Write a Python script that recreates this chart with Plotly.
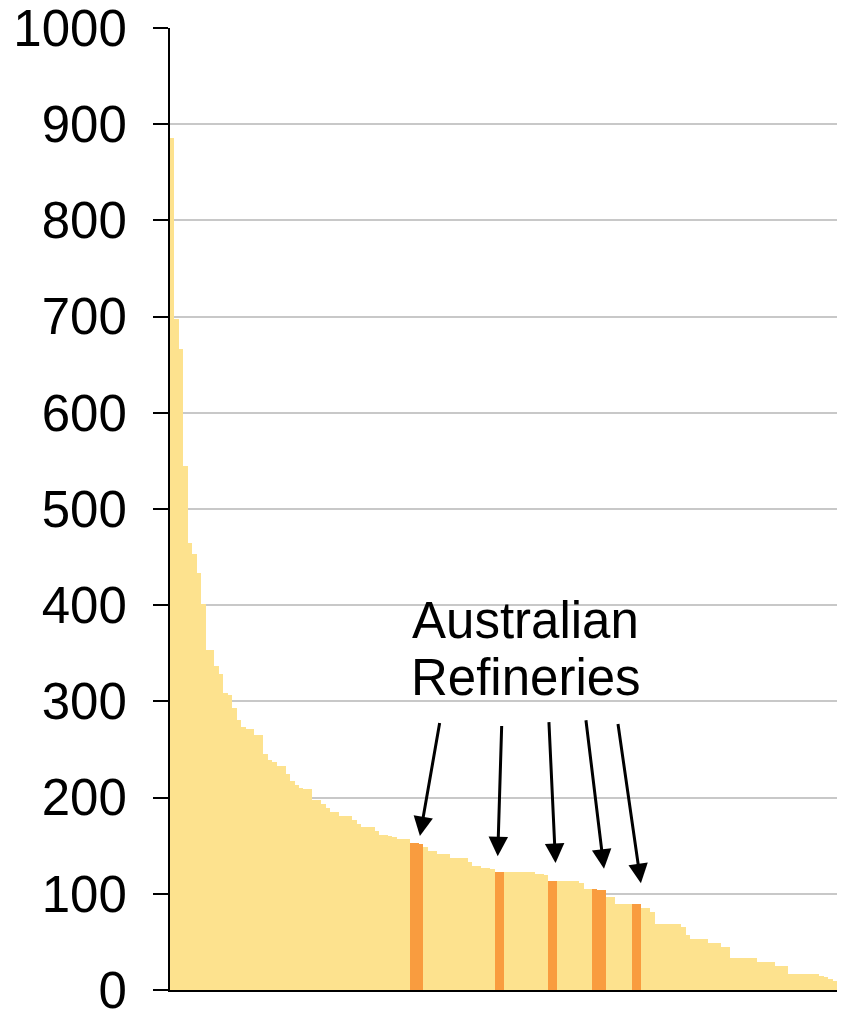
import plotly.graph_objects as go

# Refinery capacities (sorted)
capacity = [
    886, 697, 666, 545, 465, 453, 433, 401,
    353, 353, 337, 328, 309, 307, 293, 281, 273, 271, 271, 265, 265,
    245, 239, 237, 233, 233, 225, 217, 213, 210, 209, 209,
    197, 197, 193, 189, 185, 185, 181, 181, 181, 177, 173,
    169, 169, 169, 165, 161, 161, 160, 159, 157, 157, 157,
    153, 153, 152,
    149, 145, 145, 141, 141, 141, 137, 137, 137, 137, 133, 129, 129, 127, 127, 126,
    123, 123,
    123, 123, 123, 123, 123, 123, 123,
    121, 121, 120,
    113, 113,
    113, 113, 113, 113, 113, 111, 105, 105,
    105, 104, 104,
    97, 97, 89, 89, 89, 89,
    89, 89,
    85, 85, 81,
    69, 69, 69, 69, 69, 69, 65, 57,
    53, 53, 53, 53, 49, 49, 49, 45, 45,
    33, 33, 33, 33, 33, 33, 29, 29, 29, 29, 25, 25, 25,
    17, 17, 17, 17, 17, 17, 17, 15, 13, 11, 9,
]
australian_idx = [54, 55, 56, 73, 74, 85, 86, 95, 96, 97, 104, 105]
ranks = list(range(len(capacity)))
y_ticks = list(range(0, 1001, 100))
label_lines = ["Australian", "Refineries"]

YELLOW = "#FDE28E"
ORANGE = "#F99C3F"
FONT = "Liberation Sans, Arial, sans-serif"
colors = [ORANGE if i in australian_idx else YELLOW for i in ranks]

fig = go.Figure(go.Bar(
    x=ranks, y=capacity, marker=dict(color=colors, line=dict(width=0)),
    hoverinfo="y",
))

# arrows: (tail_x, tail_y, tip_x, tip_y) in data units
arrows = [
    (60.2, 279, 55.7, 160),
    (74.1, 276, 73.2, 139),
    (84.7, 280, 86.2, 132),
    (93.0, 282, 97.1, 126),
    (100.2, 278, 105.4, 111),
]
annotations = []
for tx, ty, hx, hy in arrows:
    annotations.append(dict(
        x=hx, y=hy, ax=tx, ay=ty, xref="x", yref="y", axref="x", ayref="y",
        showarrow=True, arrowhead=2, arrowsize=1.3, arrowwidth=3,
        arrowcolor="black", standoff=0, text="",
    ))
for txt, yy in zip(label_lines, [384, 325]):
    annotations.append(dict(
        x=79.5, y=yy, xref="x", yref="y", text=txt, showarrow=False,
        xanchor="center", yanchor="middle",
        font=dict(family=FONT, size=51, color="black"),
    ))

fig.update_layout(
    width=829, height=1005, autosize=False,
    margin=dict(l=162, r=0, t=20, b=23),
    paper_bgcolor="white", plot_bgcolor="white",
    bargap=0, showlegend=False,
    annotations=annotations,
    font=dict(family=FONT, color="black"),
)
fig.update_xaxes(
    range=[-0.5, len(capacity) - 0.5], showticklabels=False, ticks="",
    showgrid=False, zeroline=False, showline=True, linecolor="black", linewidth=2,
)
fig.update_yaxes(
    range=[0, 1000], tickvals=y_ticks, ticks="outside", ticklen=15, tickwidth=2,
    tickcolor="black", showline=True, linecolor="black", linewidth=2,
    showgrid=True, gridcolor="#C8C8C8", gridwidth=2, zeroline=False,
    automargin=False,
    tickfont=dict(size=51, color="black", family=FONT),
    ticklabelstandoff=16, ticklabeloverflow="allow",
)

fig.write_html("out.html")
